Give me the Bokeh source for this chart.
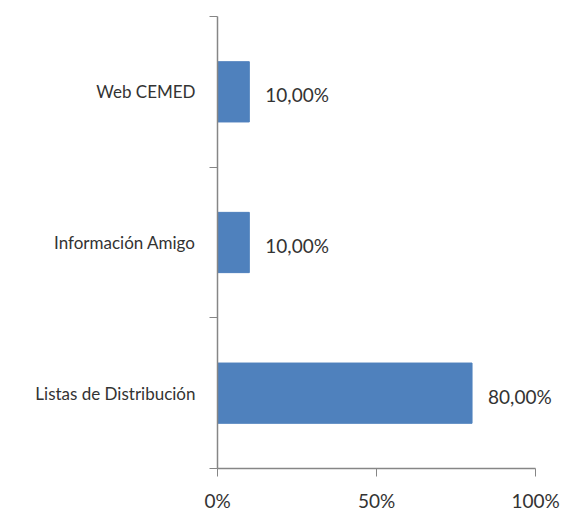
from bokeh.plotting import figure
from bokeh.models import Range1d, FixedTicker, ColumnDataSource, NumeralTickFormatter, LabelSet
from bokeh.core.properties import value
from bokeh.embed import file_html
from bokeh.resources import INLINE

categories = ["Listas de Distribución", "Información Amigo", "Web CEMED"]
values = [0.80, 0.10, 0.10]
value_labels = ["80,00%", "10,00%", "10,00%"]
x_ticks = [0, 0.5, 1.0]

ypos = [i + 0.5 for i in range(len(categories))]
src = ColumnDataSource(dict(y=ypos, v=values, lab=value_labels))

p = figure(width=574, height=514, output_backend="svg", toolbar_location=None,
           x_range=Range1d(0, 1.1), y_range=Range1d(0, len(categories)),
           min_border_left=217, min_border_right=7, min_border_top=16, min_border_bottom=44)
p.outline_line_color = None
p.xgrid.visible = False
p.ygrid.visible = False

p.hbar(y="y", right="v", left=0, height=0.4, source=src, color="#4F81BD", line_color="#4F81BD")
labels = LabelSet(x="v", y="y", text="lab", source=src, x_offset=16, y_offset=-3,
                  text_baseline="middle", text_align="left", text_font=value("Lato"),
                  text_font_size=value("19px"), text_color="#333333")
p.add_layout(labels)

ax = p.xaxis[0]
ax.ticker = FixedTicker(ticks=x_ticks, minor_ticks=[])
ax.bounds = (0, 1.0)
ax.formatter = NumeralTickFormatter(format="0%")
ax.axis_line_color = "#868686"
ax.major_tick_line_color = "#868686"
ax.major_tick_in = 0
ax.major_tick_out = 8
ax.minor_tick_line_color = None
ax.major_label_text_font = "Lato"
ax.major_label_text_font_size = "19px"
ax.major_label_text_color = "#333333"
ax.major_label_standoff = 12
ax.axis_line_width = 1.5

ay = p.yaxis[0]
ay.ticker = FixedTicker(ticks=ypos, minor_ticks=list(range(len(categories) + 1)))
ay.major_label_overrides = {y: c for y, c in zip(ypos, categories)}
ay.axis_line_color = "#868686"
ay.axis_line_width = 1.5
ay.major_tick_line_color = None
ay.minor_tick_line_color = "#868686"
ay.minor_tick_in = 0
ay.minor_tick_out = 8
ay.major_label_text_font = "Lato"
ay.major_label_text_font_size = "17px"
ay.major_label_text_color = "#333333"
ay.major_label_standoff = 14

open("out.html", "w").write(file_html(p, INLINE))
